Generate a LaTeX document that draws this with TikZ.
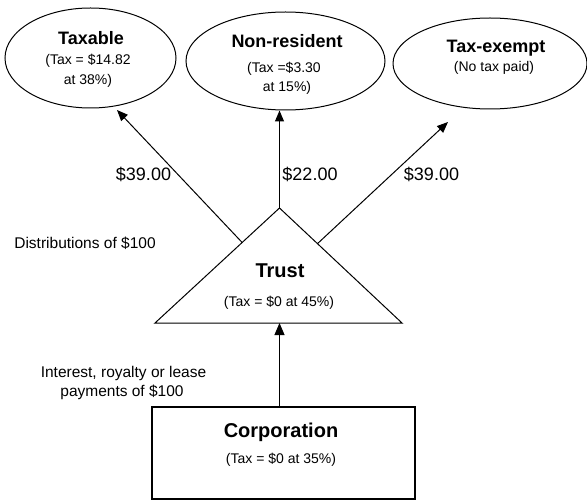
\documentclass[tikz,border=0pt]{standalone}
\usepackage{fontspec}
\setmainfont{Liberation Sans}
\usetikzlibrary{shapes.geometric,arrows.meta,calc}
\begin{document}
\begin{tikzpicture}[x=1bp,y=-1bp,
  oval/.style={draw,ellipse,line width=1bp,inner sep=0pt},
  ttl/.style={font=\fontsize{18bp}{20bp}\selectfont\bfseries,inner sep=0pt,anchor=base},
  bigttl/.style={font=\fontsize{20bp}{22bp}\selectfont\bfseries,inner sep=0pt,anchor=base},
  subtxt/.style={font=\fontsize{14bp}{16bp}\selectfont,inner sep=0pt,anchor=base},
  amount/.style={font=\fontsize{18bp}{20bp}\selectfont,inner sep=0pt,anchor=base},
  note/.style={font=\fontsize{15.5bp}{18bp}\selectfont,inner sep=0pt,anchor=base},
  flow/.style={line width=1bp,-{Triangle[length=11bp,width=9bp]}}]
\useasboundingbox (0,0) rectangle (587,500);

% ellipses
\node[oval,minimum width=171bp,minimum height=100bp] (e1) at (90.5,58) {};
\node[oval,minimum width=199bp,minimum height=98bp] (e2) at (285.5,61) {};
\node[oval,minimum width=194bp,minimum height=91bp] (e3) at (490,63.5) {};

\node[ttl] (t1) at (91,45) {Taxable};
\node[subtxt] (s1a) at (88,65) {(Tax = \$14.82};
\node[subtxt] (s1b) at (88,85) {at 38\%)};

\node[ttl] (t2) at (287,48) {Non-resident};
\node[subtxt] (s2a) at (284,73) {(Tax =\$3.30};
\node[subtxt] (s2b) at (287,92) {at 15\%)};

\node[ttl] (t3) at (496,53) {Tax-exempt};
\node[subtxt] (s3) at (494,72) {(No tax paid)};

% trust triangle
\coordinate (apex) at (279.5,208);
\coordinate (bl) at (155,323);
\coordinate (br) at (402,323);
\draw[line width=1bp,line join=miter] (apex) -- (bl) -- (br) -- cycle;
\node[bigttl] (trust) at (280,277.5) {Trust};
\node[subtxt] (trustsub) at (279,306) {(Tax = \$0 at 45\%)};

% corporation box
\node[draw,line width=1.5bp,minimum width=263bp,minimum height=92bp,inner sep=0pt] (box) at (283.5,453) {};
\node[bigttl] (corp) at (281,437) {Corporation};
\node[subtxt] (corpsub) at (281,463) {(Tax = \$0 at 35\%)};

% connectors
\coordinate (tipL) at (117,110);
\coordinate (tipR) at (448,122);
\draw[flow] ($(apex)!0.30!(bl)$) -- (tipL);
\draw[flow] (apex) -- (apex |- e2.south);
\draw[flow] ($(apex)!0.31!(br)$) -- (tipR);
\draw[flow,-{Triangle[length=12bp,width=10bp]}] (apex |- box.north) -- (apex |- bl);

% amounts
\node[amount] (a1) at (143.5,181) {\$39.00};
\node[amount] (a2) at (310,181) {\$22.00};
\node[amount] (a3) at (431.5,181) {\$39.00};

% notes
\node[note] (dist) at (85,248) {Distributions of \$100};
\node[note] (int1) at (123.5,377) {Interest, royalty or lease};
\node[note] (int2) at (122,396) {payments of \$100};
\end{tikzpicture}
\end{document}
